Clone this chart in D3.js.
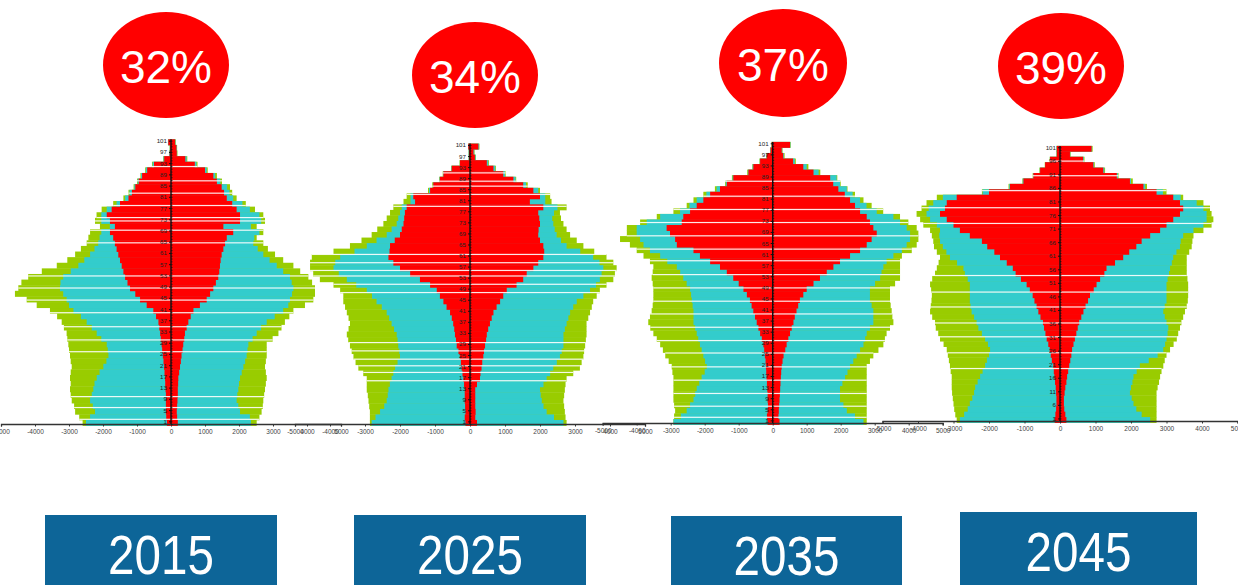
<!DOCTYPE html>
<html><head><meta charset="utf-8">
<script src="https://cdn.jsdelivr.net/npm/d3@7"></script>
<style>body{margin:0;background:#fff}svg{display:block}</style>
</head><body>
<svg id="c" width="1238" height="585"></svg>
<script>
// age groups (2-year rows, start age)
const rowAges = [0,2,4,6,8,10,12,14,16,18,20,22,24,26,28,30,32,34,36,38,40,42,44,46,48,50,52,54,56,58,60,62,64,66,68,70,72,74,76,78,80,82,84,86,88,90,92,94,96,98,100];
const years = ["2015","2025","2035","2045"];
const shares = ["32%","34%","37%","39%"];
const xTicks = [-5000,-4000,-3000,-2000,-1000,0,1000,2000,3000,4000,5000];
const ageTicksA = [1,5,9,13,17,21,25,29,33,37,41,45,49,53,57,61,65,69,73,77,81,85,89,93,97,101];
const ageTicksB = [1,6,11,16,21,26,31,36,41,46,51,56,61,66,71,76,81,86,91,96,101];

// ---- 2015 ----
const m15Green = [2600,2700,2820,2850,2920,2950,2970,2950,2970,2950,2920,2950,2970,3000,3020,3050,3070,3150,3215,3350,3560,3950,4245,4590,4490,4400,4200,3800,3360,3050,2820,2650,2480,2430,2380,2090,2235,2190,2040,1700,1400,1250,1100,1000,900,760,560,230,60,40,90];
const m15Cyan  = [2500,2380,2235,2300,2380,2330,2285,2250,2185,2100,1990,1900,1840,1860,1890,2050,2185,2330,2480,2650,2870,3000,3070,3170,3265,3250,3170,2950,2725,2550,2380,2250,2140,2100,2050,1800,2050,2050,1890,1600,1350,1220,1080,980,880,740,540,220,55,35,85];
const m15Red   = [120,140,150,150,150,150,160,170,175,190,205,220,240,260,275,300,320,345,370,440,520,715,910,1050,1205,1280,1350,1400,1450,1500,1550,1600,1650,1700,1795,1650,1795,1890,1745,1500,1250,1150,1050,950,850,700,500,200,40,30,80];
const f15Green = [2520,2600,2665,2700,2715,2740,2765,2790,2815,2790,2765,2790,2815,2815,2815,2990,3160,3250,3350,3480,3600,3940,4186,4235,4235,4150,4040,3800,3600,3300,3060,2850,2715,2520,2715,2520,2765,2715,2470,2200,1930,1800,1735,1500,1350,1080,780,480,190,180,140];
const f15Cyan  = [2350,2320,2030,1980,1930,1950,1980,2000,2030,2080,2130,2180,2225,2250,2275,2400,2520,2650,2815,3050,3300,3450,3500,3560,3600,3550,3500,3300,3110,2900,2715,2550,2420,2450,2600,2350,2650,2600,2320,2100,1830,1720,1650,1450,1300,1050,750,460,180,170,130];
const f15Red   = [200,180,170,180,190,200,200,210,215,240,265,290,310,340,360,390,410,460,510,580,660,850,1050,1150,1245,1320,1390,1420,1440,1460,1490,1540,1590,1640,1830,1540,2030,2030,1930,1800,1640,1560,1490,1350,1245,1000,700,420,170,160,120];

// ---- 2025 ----
const m25Green = [2860,2860,2860,2880,2900,2920,2950,2950,2950,3050,3190,3270,3330,3380,3430,3480,3520,3470,3430,3470,3520,3570,3620,3620,3710,3900,4290,4480,4570,4570,4520,3900,3430,3100,2810,2650,2475,2380,2285,2190,1900,1810,1200,1080,880,780,540,300,40,40,50];
const m25Cyan  = [2810,2700,2570,2450,2380,2350,2330,2290,2240,2190,2140,2070,2000,2020,2050,2070,2095,2170,2240,2310,2380,2520,2670,2800,2950,3250,3520,3750,3900,3850,3710,3300,2950,2670,2380,2240,2095,2050,2000,1950,1700,1700,1170,1060,870,770,530,290,40,40,50];
const m25Red   = [130,150,130,140,150,150,150,170,190,215,240,260,290,330,380,400,430,450,480,520,570,670,760,860,950,1140,1430,1710,2000,2190,2330,2300,2285,2150,2000,1950,1900,1880,1860,1810,1570,1620,1140,1050,860,760,520,285,30,30,50];
const f25Green = [2760,2730,2710,2690,2670,2690,2710,2730,2760,2950,3140,3190,3240,3260,3290,3310,3330,3330,3330,3380,3430,3480,3520,3620,3710,3900,4095,4140,4190,4095,3900,3550,3240,3050,2860,2760,2670,2600,2570,2760,2330,2290,2000,1650,1320,1020,740,540,170,130,270];
const f25Cyan  = [2670,2400,2190,2100,2050,2020,2000,2100,2190,2290,2380,2480,2570,2620,2670,2670,2670,2710,2760,2810,2860,2950,3050,3240,3430,3600,3710,3760,3810,3700,3520,3150,2760,2600,2475,2420,2380,2350,2400,2500,2150,2150,1950,1600,1300,1000,720,520,160,120,260];
const f25Red   = [200,150,160,150,150,150,150,200,285,300,330,350,380,400,430,460,480,520,570,620,670,760,860,950,1050,1330,1520,1620,1810,1950,2095,2120,2095,2000,1950,1960,2000,1980,1950,2095,1710,2000,1810,1520,1240,950,670,480,140,100,240];

// ---- 2035 ----
const m35Green = [2920,2900,2870,2900,2920,2920,2920,2920,2920,2950,2970,3060,3160,3230,3310,3410,3510,3600,3660,3610,3560,3530,3510,3510,3510,3530,3560,3530,3510,3610,3800,4000,4200,4490,4290,4290,3900,3410,2920,2530,2330,2040,1700,1400,1200,750,600,390,190,80,40];
const m35Cyan  = [2920,2700,2530,2430,2330,2280,2235,2160,2090,2000,1940,1990,2040,2090,2140,2190,2235,2280,2330,2330,2330,2355,2380,2400,2430,2530,2630,2720,2820,3100,3310,3610,3800,3900,4000,4000,3705,3310,2725,2450,2235,1950,1650,1380,1180,730,590,380,180,70,30];
const m35Red   = [150,170,150,140,150,150,160,170,180,190,200,210,230,250,275,320,370,420,470,520,570,620,670,760,860,1000,1160,1350,1550,1840,2140,2330,2820,2870,3020,3120,2675,2630,2430,2235,2040,1840,1550,1350,1160,715,570,370,175,60,30];
const f35Green = [2765,2765,2765,2765,2765,2765,2765,2765,2765,2765,2765,2860,2960,3110,3255,3300,3350,3450,3550,3520,3500,3470,3450,3450,3450,3600,3745,3745,3745,3745,3800,4090,4235,4285,4285,4235,3990,3745,3250,2910,2670,2420,2200,2000,1900,1400,1050,680,350,290,530];
const f35Cyan  = [2670,2420,2180,2080,1980,1980,1980,2050,2130,2200,2275,2370,2470,2570,2670,2720,2765,2860,2960,2960,2960,2910,2860,2860,2860,3010,3160,3200,3255,3350,3550,3800,3940,4040,4040,3940,3745,3550,3060,2760,2570,2350,2180,1980,1880,1350,1000,650,330,280,520];
const f35Red   = [200,170,180,190,200,210,220,230,240,250,265,290,320,370,410,460,510,560,610,650,700,750,800,900,1000,1200,1390,1590,1785,1980,2275,2570,2765,2910,3060,2960,2860,2765,2570,2420,2275,2120,1930,1780,1690,1200,900,600,310,265,510];

// ---- 2045 ----
const m45Green = [2910,2950,2980,3000,3020,3040,3050,3050,3050,3080,3100,3130,3160,3190,3280,3380,3430,3500,3520,3600,3660,3640,3620,3610,3630,3660,3600,3520,3470,3420,3380,3470,3550,3570,3610,3660,3850,3940,4040,3900,3760,3470,2200,1450,1060,770,580,430,290,100,100];
const m45Cyan  = [2820,2700,2600,2540,2470,2420,2390,2320,2250,2180,2110,2060,2000,1970,2030,2110,2200,2300,2350,2420,2490,2520,2540,2540,2540,2540,2600,2680,2720,2900,3100,3200,3300,3380,3400,3380,3470,3660,3760,3700,3570,3300,2180,1430,1050,760,570,420,285,95,95];
const m45Red   = [150,130,110,100,100,110,120,140,160,175,190,230,260,290,330,375,410,450,480,550,610,660,720,770,850,940,1100,1250,1330,1500,1690,1850,2050,2200,2540,2820,3000,3190,3380,3240,3190,2910,2000,1410,1030,750,560,420,280,90,90];
const f45Green = [2720,2720,2720,2720,2720,2720,2750,2790,2820,2860,2910,2950,3000,3100,3200,3290,3330,3380,3420,3470,3520,3570,3600,3610,3610,3610,3590,3570,3570,3570,3570,3640,3710,3730,3760,4040,4270,4320,4270,4225,4040,3470,3000,2450,2050,1650,1270,980,690,300,920];
const f45Cyan  = [2540,2300,2150,2070,2020,1970,2000,2040,2070,2160,2250,2500,2750,2910,2960,3000,3030,3050,3000,2950,2910,2950,3000,3000,3000,3000,3030,3070,3100,3150,3190,3280,3380,3400,3470,3760,4040,4130,4130,4040,3850,3400,2900,2400,2000,1630,1250,960,670,290,900];
const f45Red   = [180,150,120,110,110,130,150,180,200,230,260,290,320,340,380,420,460,500,540,600,660,720,790,845,950,1030,1130,1250,1310,1550,1780,1950,2150,2300,2540,2820,3000,3190,3380,3470,3380,3190,2720,2350,1970,1600,1220,940,650,280,890];

const colors = {green:"#99cc00", cyan:"#33cccc", red:"#ff0000"};

const panels = [
  {year:years[0], share:shares[0], ticks:ageTicksA, cx:171, k:0.034, axisY:424, bottom:425.5, top:139.3,
   m:[m15Green,m15Cyan,m15Red], f:[f15Green,f15Cyan,f15Red],
   gaps:[92.3,87.2,82.8,78.4,74.1,72.9,69.6,65.1,53.3,49,44.7,40.2,35.2,30.5,26.3,10.3,6.4,2.2],
   ell:[166,65,63,53], box:[45,515,232]},
  {year:years[1], share:shares[1], ticks:ageTicksA, cx:470, k:0.035, axisY:424, bottom:425.5, top:143.6,
   m:[m25Green,m25Cyan,m25Red], f:[f25Green,f25Cyan,f25Red],
   gaps:[91.4,88.4,86.6,83.6,79.3,61.9,58.9,56.1,54.1,51.1,48.1,30,27,24,21.6,19.2,16.2],
   ell:[475,75,63,53], box:[354,515,232]},
  {year:years[2], share:shares[2], ticks:ageTicksA, cx:772.7, k:0.034, axisY:423, bottom:424.5, top:141.9,
   m:[m35Green,m35Cyan,m35Red], f:[f35Green,f35Cyan,f35Red],
   gaps:[87.8,82.4,77.6,72.9,68.1,63.3,59.1,54.1,49.3,44.5,39.9,35.1,30.3,25.8,20.8,16,11.2,6.6,2.6],
   ell:[783,63,64,54], box:[671,516,231]},
  {year:years[3], share:shares[3], ticks:ageTicksB, cx:1060, k:0.0355, axisY:421, bottom:422.5, top:145.9,
   m:[m45Green,m45Cyan,m45Red], f:[f45Green,f45Cyan,f45Red],
   gaps:[96.4,91,85.5,79.2,73.4,54.2,48.1,42.6,36.7,31.6,25.7,19.9],
   ell:[1061,66,63,53], box:[960,512,237]}
];

const svg = d3.select("#c");
const layerNames = ["green","cyan","red"];

panels.forEach(p => {
  const g = svg.append("g");
  const x = d3.scaleLinear().domain([-5000,5000]).range([p.cx-5000*p.k, p.cx+5000*p.k]);
  const y = d3.scaleLinear().domain([0,102]).range([p.bottom, p.top]);
  const yLab = d3.scaleLinear().domain([-0.5,101.5]).range([p.bottom, p.top]);

  // bars
  layerNames.forEach((ln, li) => {
    const rows = rowAges.map((a,i) => ({a, m:p.m[li][i], f:p.f[li][i]}));
    g.append("g").selectAll("rect.l").data(rows).join("rect")
      .attr("x", d => x(-d.m)).attr("width", d => x(0)-x(-d.m))
      .attr("y", d => y(d.a+2)).attr("height", d => y(d.a)-y(d.a+2)+0.4)
      .attr("fill", colors[ln]);
    g.append("g").selectAll("rect.r").data(rows).join("rect")
      .attr("x", x(0)).attr("width", d => x(d.f)-x(0))
      .attr("y", d => y(d.a+2)).attr("height", d => y(d.a)-y(d.a+2)+0.4)
      .attr("fill", colors[ln]);
  });

  // white separator streaks
  g.append("g").selectAll("rect").data(p.gaps).join("rect")
    .attr("x", w => x(-p.m[0][Math.floor(w/2)]) )
    .attr("width", w => x(p.f[0][Math.floor(w/2)]) - x(-p.m[0][Math.floor(w/2)]))
    .attr("y", w => y(w)-0.6).attr("height", 1.2)
    .attr("fill", "#ffffff").attr("opacity", 0.9);

  // x axis
  const ax = g.append("g").attr("transform", `translate(0,${p.axisY})`)
    .call(d3.axisBottom(x).tickValues(xTicks).tickSize(2.5).tickPadding(3).tickFormat(d => String(d)));
  ax.select(".domain").attr("stroke", "#333").attr("stroke-width", 1.3);
  ax.selectAll(".tick line").attr("stroke", "#333");
  ax.selectAll("text").attr("font-size", 6.5).attr("fill", "#444").attr("font-family", "Liberation Sans, Arial, sans-serif");

  // vertical age axis
  const ay = g.append("g").attr("transform", `translate(${x(0)},0)`)
    .call(d3.axisLeft(yLab).tickValues(p.ticks).tickSize(2).tickPadding(2).tickFormat(d => String(d)));
  ay.select(".domain").remove();
  ay.selectAll(".tick line").attr("stroke", "#111");
  ay.selectAll("text").attr("font-size", 6.2).attr("fill", "#222").attr("font-family", "Liberation Sans, Arial, sans-serif");
  const ayMinor = g.append("g").attr("transform", `translate(${x(0)},0)`)
    .call(d3.axisRight(yLab).tickValues(d3.range(0,102)).tickSize(1.5).tickFormat(""));
  ayMinor.select(".domain").remove();
  ayMinor.selectAll(".tick line").attr("stroke", "#111").attr("stroke-width", 0.8);
  g.append("line").attr("x1", x(0)).attr("x2", x(0)).attr("y1", y(102)).attr("y2", p.axisY)
    .attr("stroke", "#111").attr("stroke-width", 1.4);

  // share ellipse
  const [ex, ey, rx, ry] = p.ell;
  svg.append("ellipse").attr("cx", ex).attr("cy", ey).attr("rx", rx).attr("ry", ry).attr("fill", "#ff0000");
  svg.append("text").attr("x", ex).attr("y", ey+2).attr("text-anchor", "middle").attr("dominant-baseline", "central")
    .attr("font-family", "Liberation Sans, Arial, sans-serif").attr("font-size", 46).attr("fill", "#ffffff")
    .text(p.share);

  // year box
  const [bx, by, bw] = p.box;
  svg.append("rect").attr("x", bx).attr("y", by).attr("width", bw).attr("height", 585-by+5).attr("fill", "#0d6598");
  const tx = bx + bw/2, ty = by + 40;
  svg.append("text").attr("transform", `translate(${tx},${ty}) scale(0.85,1)`)
    .attr("text-anchor", "middle").attr("dominant-baseline", "central")
    .attr("font-family", "Liberation Sans, Arial, sans-serif").attr("font-size", 56).attr("fill", "#ffffff")
    .text(p.year);
});
</script>
</body></html>
